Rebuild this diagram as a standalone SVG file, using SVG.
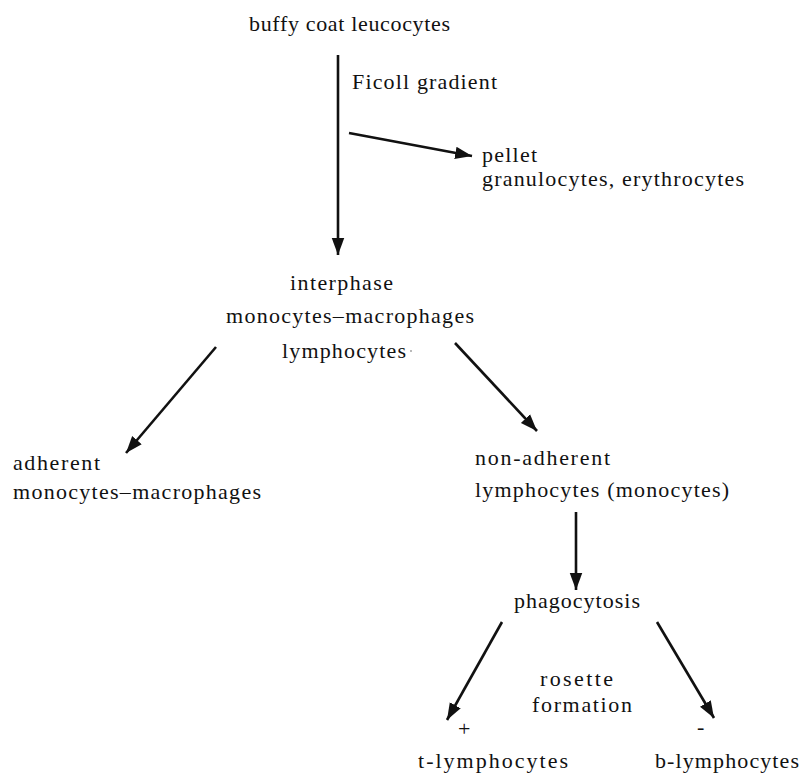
<svg xmlns="http://www.w3.org/2000/svg" width="804" height="775" viewBox="0 0 804 775">
<style>
text{font-family:"Liberation Serif","DejaVu Serif",serif;font-size:22px;fill:#111}
.c line{stroke:#111;stroke-width:2.6;fill:none}
</style>
<defs>
<marker id="ah" viewBox="0 0 10 10" refX="10" refY="5" markerWidth="6.5" markerHeight="6.5" markerUnits="strokeWidth" orient="auto"><path d="M0,1.3 L10,5 L0,8.7 z" fill="#111"/></marker>
</defs>
<rect width="804" height="775" fill="#fff"/>
<g class="c" id="connectors">
<line x1="338" y1="55" x2="338" y2="255" marker-end="url(#ah)"/>
<line x1="349" y1="133" x2="472" y2="156" marker-end="url(#ah)"/>
<line x1="216" y1="347" x2="126" y2="453" marker-end="url(#ah)"/>
<line x1="455" y1="343" x2="537" y2="431" marker-end="url(#ah)"/>
<line x1="576" y1="512" x2="576" y2="590" marker-end="url(#ah)"/>
<line x1="502" y1="622" x2="447" y2="720" marker-end="url(#ah)"/>
<line x1="657" y1="622" x2="714" y2="718" marker-end="url(#ah)"/>
</g>
<g id="buffy"><text x="249" y="31" textLength="201">buffy coat leucocytes</text></g>
<g id="ficoll"><text x="352" y="89" textLength="145">Ficoll gradient</text></g>
<g id="pellet"><text x="482" y="162" textLength="55">pellet</text><text x="482" y="186" textLength="262">granulocytes, erythrocytes</text></g>
<g id="interphase"><text x="290" y="290" textLength="103">interphase</text><text x="226" y="323" textLength="248">monocytes–macrophages</text><text x="282" y="358" textLength="124">lymphocytes</text><circle cx="411" cy="351" r="0.9" fill="#999"/></g>
<g id="adherent"><text x="13" y="470" textLength="87">adherent</text><text x="13" y="499" textLength="248">monocytes–macrophages</text></g>
<g id="nonadherent"><text x="475" y="465" textLength="135">non-adherent</text><text x="475" y="497" textLength="254">lymphocytes (monocytes)</text></g>
<g id="phago"><text x="514" y="608" textLength="126">phagocytosis</text></g>
<g id="rosette"><text x="540" y="686" textLength="73">rosette</text><text x="532" y="712" textLength="100">formation</text></g>
<g id="plus"><text x="458" y="736">+</text></g>
<g id="minus"><text x="697" y="734">-</text></g>
<g id="tlym"><text x="418" y="768" textLength="150">t-lymphocytes</text></g>
<g id="blym"><text x="655" y="768" textLength="144">b-lymphocytes</text></g>
</svg>
